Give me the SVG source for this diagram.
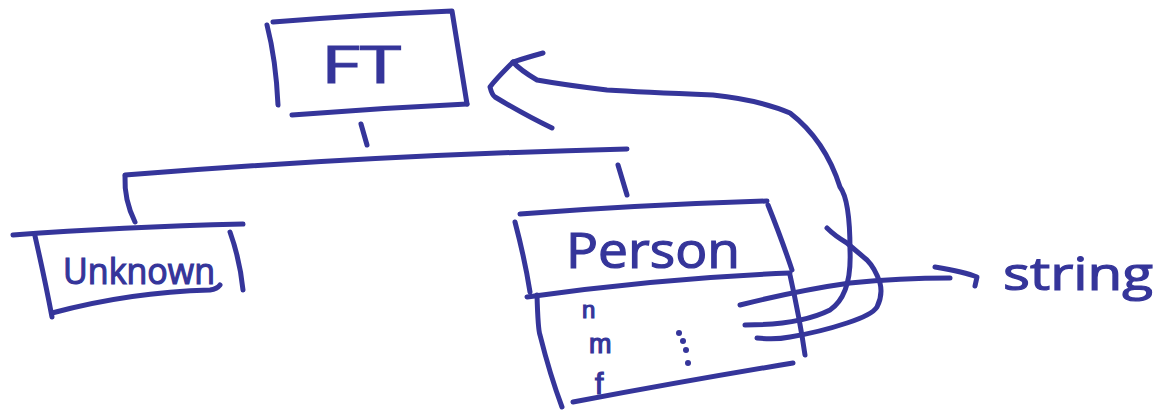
<svg xmlns="http://www.w3.org/2000/svg" width="1164" height="411" viewBox="0 0 1164 411">
<style>
.s{fill:none;stroke:#35359a;stroke-width:5;stroke-linecap:round;stroke-linejoin:round}
.t{fill:#35359a;stroke:#35359a;stroke-width:1.2;font-family:"Open Sans","Liberation Sans",sans-serif;font-weight:400}
.f{fill:#35359a;stroke:#35359a;stroke-width:1.2;font-family:"Liberation Sans",Arial,sans-serif;font-weight:400}
.d{fill:#35359a}
</style>
<rect width="1164" height="411" fill="#ffffff"/>
<g id="node-ft">
<path class="s" d="M273,22 Q360,15 452,11 Q460,60 467,104"/>
<path class="s" d="M267,25 Q276,60 278,105"/>
<path class="s" d="M292,115 Q380,108 467,104"/>
<text class="t" x="321" y="83" font-size="52" textLength="80" lengthAdjust="spacingAndGlyphs">FT</text>
</g>
<g id="node-unknown">
<path class="s" d="M13,235 Q120,227 243,224"/>
<path class="s" d="M35,236 Q45,280 52,317"/>
<path class="s" d="M52,313 Q130,292 210,290 Q217,289 220,285"/>
<path class="s" d="M230,232 Q240,260 243,290"/>
<text class="t" x="63" y="284" font-size="36" textLength="152" lengthAdjust="spacingAndGlyphs">Unknown</text>
</g>
<g id="node-person">
<path class="s" d="M520,214 Q640,205 767,201"/>
<path class="s" d="M515,222 Q525,260 530,292"/>
<path class="s" d="M768,205 Q782,240 792,270"/>
<path class="s" d="M527,297 Q660,278 790,273"/>
<path class="s" d="M537,295 Q538,330 540,335 Q550,375 562,407"/>
<path class="s" d="M790,275 Q800,320 805,355"/>
<path class="s" d="M573,402 Q690,380 793,363"/>
<text class="t" x="566" y="268" font-size="50" textLength="174" lengthAdjust="spacingAndGlyphs">Person</text>
<text class="f" x="582" y="318" font-size="24">n</text>
<text class="f" x="589" y="353" font-size="27">m</text>
<text class="f" x="595" y="394" font-size="30">f</text>
<circle class="d" cx="679" cy="333" r="3"/>
<circle class="d" cx="683" cy="341" r="3"/>
<circle class="d" cx="686" cy="350" r="3"/>
<circle class="d" cx="688" cy="363" r="3"/>
</g>
<g id="node-string">
<text class="t" x="1003" y="290" font-size="46" textLength="150" lengthAdjust="spacingAndGlyphs">string</text>
</g>
<g id="connectors">
<path class="s" d="M125,175 Q380,155 627,149"/>
<path class="s" d="M361,124 L367,145"/>
<path class="s" d="M125,176 Q124,200 135,222"/>
<path class="s" d="M618,165 L627,195"/>
<path class="s" d="M740,305 Q800,290 850,283 Q900,278 950,278"/>
<path class="s" d="M935,267 Q965,272 977,277 L975,286"/>
<path class="s" d="M745,325 Q800,325 830,310 Q852,295 850,250 Q850,200 840,187 Q825,140 790,113 Q760,100 713,95 Q640,92 607,90 Q565,85 537,80 Q520,70 513,62"/>
<path class="s" d="M543,53 Q525,58 513,62 Q495,80 490,87 Q492,95 495,97 Q525,115 552,128"/>
<path class="s" d="M757,338 Q775,340 790,337 Q820,332 847,323 Q872,315 877,307 Q883,295 880,283 Q875,268 867,260 Q855,250 847,243 Q835,236 827,228"/>
</g>
</svg>
